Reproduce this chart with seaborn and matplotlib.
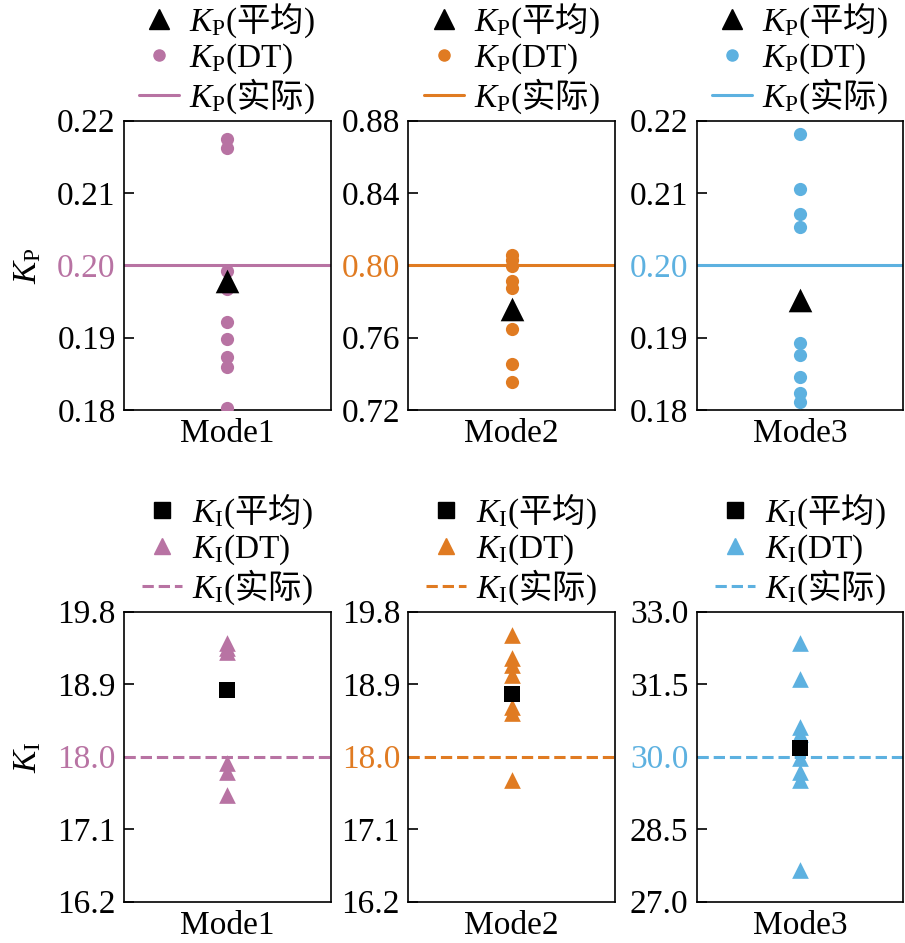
import numpy as np
import pandas as pd
import matplotlib
matplotlib.use("Agg")
import matplotlib.pyplot as plt
from matplotlib.lines import Line2D
import seaborn as sns

# --- DATA ---
modes = ["Mode1", "Mode2", "Mode3"]
colors = ["#B873A3", "#E07B22", "#5DB1E0"]

kp_actual = [0.20, 0.80, 0.20]
kp_mean = [0.1978, 0.7761, 0.1952]
kp_dt_mode1 = [0.2175, 0.2162, 0.1992, 0.1968, 0.1922, 0.1898, 0.1873, 0.1859, 0.1803]
kp_dt_mode2 = [0.8059, 0.8027, 0.7994, 0.7913, 0.7874, 0.7648, 0.7453, 0.7355]
kp_dt_mode3 = [0.2181, 0.2105, 0.2071, 0.2053, 0.1892, 0.1876, 0.1846, 0.1823, 0.1811]
kp_ticks = [[0.18, 0.19, 0.20, 0.21, 0.22],
            [0.72, 0.76, 0.80, 0.84, 0.88],
            [0.18, 0.19, 0.20, 0.21, 0.22]]

ki_actual = [18.0, 18.0, 30.0]
ki_mean = [18.83, 18.78, 30.17]
ki_dt_mode1 = [19.41, 19.35, 19.30, 17.92, 17.81, 17.53]
ki_dt_mode2 = [19.51, 19.22, 19.14, 19.01, 18.62, 18.54, 17.71]
ki_dt_mode3 = [32.35, 31.60, 30.62, 30.48, 29.97, 29.69, 29.52, 27.66]
ki_ticks = [[16.2, 17.1, 18.0, 18.9, 19.8],
            [16.2, 17.1, 18.0, 18.9, 19.8],
            [27.0, 28.5, 30.0, 31.5, 33.0]]

kp_dt = [kp_dt_mode1, kp_dt_mode2, kp_dt_mode3]
ki_dt = [ki_dt_mode1, ki_dt_mode2, ki_dt_mode3]

# --- STYLE ---
sns.set_style("ticks", {"xtick.direction": "in", "ytick.direction": "in",
                        "axes.edgecolor": "black", "text.color": "black",
                        "axes.labelcolor": "black", "xtick.color": "black",
                        "ytick.color": "black"})
plt.rcParams['font.family'] = ['Liberation Serif', 'Noto Sans CJK SC']
plt.rcParams['mathtext.fontset'] = 'custom'
plt.rcParams['mathtext.rm'] = 'Liberation Serif'
plt.rcParams['mathtext.it'] = 'Liberation Serif:italic'
plt.rcParams['font.size'] = 24
plt.rcParams['axes.linewidth'] = 1.2

fig = plt.figure(figsize=(9.05, 9.43), dpi=100)

lefts = [0.137, 0.4512, 0.7698]
width = 0.2284
rows = [
    dict(bottom=0.5652, height=0.3068, sym="P", dt=kp_dt, mean=kp_mean, actual=kp_actual,
         ticks=kp_ticks, dt_marker="o", dt_size=9.5, mean_marker="^", mean_size=17,
         ls="-", fmt="{:.2f}", leg_dt_marker="o", leg_dt_ms=8, leg_mean_marker="^", leg_mean_ms=15),
    dict(bottom=0.0438, height=0.3075, sym="I", dt=ki_dt, mean=ki_mean, actual=ki_actual,
         ticks=ki_ticks, dt_marker="^", dt_size=12, mean_marker="s", mean_size=12,
         ls="--", fmt="{:.1f}", leg_dt_marker="^", leg_dt_ms=12, leg_mean_marker="s", leg_mean_ms=11),
]

for r in rows:
    sub = r"$K_\mathrm{" + r["sym"] + "}$"
    for i, mode in enumerate(modes):
        ax = fig.add_axes([lefts[i], r["bottom"], width, r["height"]])
        c = colors[i]
        df = pd.DataFrame({"mode": [mode] * len(r["dt"][i]), "val": r["dt"][i]})
        sns.stripplot(data=df, x="mode", y="val", jitter=False, color=c,
                      marker=r["dt_marker"], size=r["dt_size"], linewidth=0, ax=ax, zorder=3)
        ax.axhline(r["actual"][i], color=c, lw=2.2, ls=r["ls"], zorder=2)
        dm = pd.DataFrame({"mode": [mode], "val": [r["mean"][i]]})
        sns.stripplot(data=dm, x="mode", y="val", jitter=False, color="black",
                      marker=r["mean_marker"], size=r["mean_size"], linewidth=0, ax=ax, zorder=4)

        t = r["ticks"][i]
        ax.set_ylim(t[0], t[-1])
        ax.set_yticks(t)
        ax.set_yticklabels([r["fmt"].format(v) for v in t])
        ax.get_yticklabels()[2].set_color(c)
        ax.set_xlim(-0.5, 0.5)
        ax.tick_params(axis="y", length=7, width=1.2, direction="in", labelsize=24, pad=6,
                       color="black")
        ax.tick_params(axis="x", length=0, labelsize=24, pad=6, labelcolor="black")
        ax.set_xlabel("")
        for s in ax.spines.values():
            s.set_visible(True)
            s.set_linewidth(1.2)
            s.set_color("black")
        if i == 0:
            ax.set_ylabel(sub, fontsize=24, labelpad=10, color="black")
        else:
            ax.set_ylabel("")

        handles = [
            Line2D([], [], ls="none", marker=r["leg_mean_marker"], ms=r["leg_mean_ms"], color="black"),
            Line2D([], [], ls="none", marker=r["leg_dt_marker"], ms=r["leg_dt_ms"], color=c),
            Line2D([], [], ls=r["ls"], lw=2.2, color=c),
        ]
        labels = [sub[:-1] + r"\mathrm{(}$平均$\mathrm{)}$",
                  sub[:-1] + r"\mathrm{(DT)}$",
                  sub[:-1] + r"\mathrm{(}$实际$\mathrm{)}$"]
        ax.legend(handles, labels, loc="lower center", bbox_to_anchor=(0.5, 1.0),
                  frameon=False, prop={"family": "Noto Sans CJK SC", "size": 24},
                  handlelength=1.2, handletextpad=0.3,
                  labelspacing=0.0, borderpad=0.05, borderaxespad=0.1)

fig.savefig("out.png", dpi=100)
